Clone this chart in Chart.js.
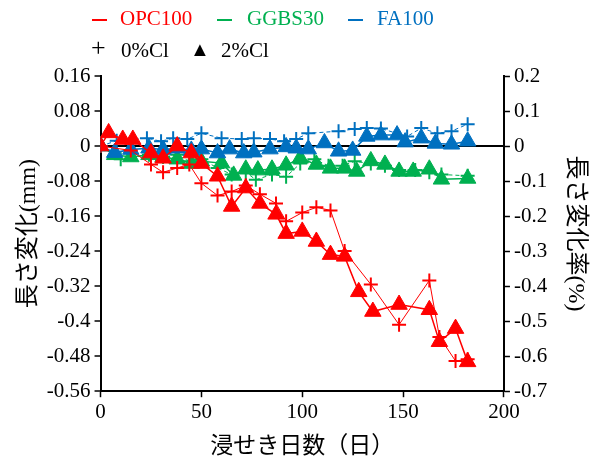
<!DOCTYPE html>
<html>
<head>
<meta charset="utf-8">
<script src="https://cdn.jsdelivr.net/npm/chart.js@4"></script>
<style>
body { margin: 0; background: #fff; }
#wrap { position: relative; width: 592px; height: 461px; }
#chart { position: absolute; left: 0; top: 0; }
.legend { position: absolute; font-family: "Liberation Serif", serif; font-size: 21px; white-space: nowrap; }
.legend span { position: absolute; top: 0; }
.legend i { position: absolute; top: 13px; width: 15px; height: 2px; }
</style>
</head>
<body>
<div id="wrap">
  <canvas id="chart" width="592" height="461"></canvas>
  <div class="legend" style="left:0; top:6px;">
    <i style="left:92px; background:#ff0000;"></i>
    <span style="left:120px; color:#ff0000;">OPC100</span>
    <i style="left:217px; background:#00b050;"></i>
    <span style="left:247px; color:#00b050;">GGBS30</span>
    <i style="left:348px; background:#0070c0;"></i>
    <span style="left:377px; color:#0070c0;">FA100</span>
  </div>
  <div class="legend" style="left:0; top:38px;">
    <span style="left:91px; font-size:26px; top:-5px;">+</span>
    <span style="left:121px;">0%Cl</span>
    <span style="left:190px; font-size:20px; top:0px;">&#9650;</span>
    <span style="left:221px;">2%Cl</span>
  </div>
</div>
<script>
// tick values
const xTicks = [0, 50, 100, 150, 200];
const leftTicks = [-0.56, -0.48, -0.4, -0.32, -0.24, -0.16, -0.08, 0, 0.08, 0.16];
const rightTicks = [-0.7, -0.6, -0.5, -0.4, -0.3, -0.2, -0.1, 0, 0.1, 0.2];

// OPC100
const opc2Days = [0, 4, 11, 16, 25, 31, 38, 45, 50, 58, 65, 72, 79, 87, 92, 100, 107, 114, 121, 128, 135, 148, 163, 168, 176, 182];
const opc2Vals = [0, 0.03, 0.015, 0.015, -0.016, -0.028, 0, -0.016, -0.04, -0.069, -0.138, -0.096, -0.131, -0.156, -0.2, -0.195, -0.218, -0.248, -0.252, -0.333, -0.378, -0.362, -0.374, -0.447, -0.417, -0.493];
const opc0Days = [0, 15, 25, 31, 38, 44, 50, 58, 65, 72, 79, 87, 92, 100, 107, 114, 121, 134, 148, 163, 168, 176, 182];
const opc0Vals = [0, -0.01, -0.042, -0.06, -0.05, -0.042, -0.085, -0.113, -0.104, -0.09, -0.11, -0.131, -0.172, -0.152, -0.14, -0.147, -0.24, -0.316, -0.408, -0.307, -0.436, -0.491, -0.487];

// FA100
const fa2Days = [0, 7, 15, 24, 31, 38, 45, 50, 58, 64, 71, 76, 84, 92, 97, 103, 111, 118, 125, 132, 139, 147, 151, 159, 166, 174, 182];
const fa2Vals = [0, -0.015, -0.008, -0.005, -0.008, -0.005, -0.01, -0.007, -0.016, -0.007, -0.016, -0.014, -0.007, -0.002, -0.005, -0.007, 0.007, -0.012, -0.01, 0.022, 0.025, 0.025, 0.009, 0.018, 0.006, 0.004, 0.011];
const fa0Days = [0, 8, 23, 30, 36, 43, 50, 60, 70, 76, 84, 91, 97, 103, 118, 126, 132, 139, 152, 159, 167, 174, 182];
const fa0Vals = [0, 0.012, 0.018, 0.011, 0.018, 0.016, 0.029, 0.018, 0.016, 0.018, 0.016, 0.011, 0.016, 0.029, 0.034, 0.039, 0.041, 0.04, 0.022, 0.041, 0.029, 0.034, 0.05];

// GGBS30
const gg2Days = [0, 7, 15, 24, 31, 38, 45, 50, 60, 66, 72, 78, 85, 92, 99, 107, 114, 121, 127, 134, 141, 148, 155, 163, 169, 182];
const gg2Vals = [0, -0.02, -0.025, -0.02, -0.025, -0.03, -0.04, -0.035, -0.039, -0.067, -0.053, -0.055, -0.053, -0.044, -0.028, -0.042, -0.051, -0.051, -0.058, -0.034, -0.042, -0.058, -0.058, -0.053, -0.076, -0.074];
const gg0Days = [0, 10, 24, 31, 38, 44, 50, 58, 65, 72, 77, 85, 92, 99, 106, 113, 120, 126, 134, 141, 148, 156, 163, 169, 182];
const gg0Vals = [0, -0.03, -0.02, -0.025, -0.02, -0.035, -0.03, -0.05, -0.065, -0.06, -0.077, -0.065, -0.07, -0.04, -0.03, -0.045, -0.045, -0.035, -0.04, -0.045, -0.055, -0.055, -0.06, -0.065, -0.068];

const RED = '#ff0000', GREEN = '#00b050', BLUE = '#0070c0';

function pts(days, vals) {
  return days.map((d, i) => ({ x: d, y: vals[i] }));
}

function triSet(days, vals, color) {
  return {
    data: pts(days, vals),
    borderColor: color, backgroundColor: color,
    borderWidth: 1.5,
    pointStyle: 'triangle', pointRadius: 9.5,
    pointBorderWidth: 1
  };
}
function crossSet(days, vals, color, dash) {
  return {
    data: pts(days, vals),
    borderColor: color, backgroundColor: color,
    borderWidth: 1, borderDash: dash,
    pointStyle: 'cross', pointRadius: 7,
    pointBorderWidth: 2, pointBorderDash: []
  };
}

const serif = '"Liberation Serif", "Noto Sans CJK JP", serif';

new Chart(document.getElementById('chart'), {
  type: 'line',
  data: {
    datasets: [
      triSet(opc2Days, opc2Vals, RED),
      crossSet(opc0Days, opc0Vals, RED, []),
      triSet(fa2Days, fa2Vals, BLUE),
      crossSet(fa0Days, fa0Vals, BLUE, [4, 3]),
      triSet(gg2Days, gg2Vals, GREEN),
      crossSet(gg0Days, gg0Vals, GREEN, [4, 3])
    ]
  },
  options: {
    responsive: false,
    animation: false,
    layout: { padding: { top: 76, left: 14, right: 2, bottom: 3 } },
    plugins: { legend: { display: false }, tooltip: { enabled: false } },
    scales: {
      x: {
        type: 'linear', min: 0, max: 200,
        afterBuildTicks: axis => { axis.ticks = xTicks.map(v => ({ value: v })); },
        grid: { drawOnChartArea: false, tickColor: '#000', tickLength: 6, tickWidth: 1.5 },
        border: { color: '#000', width: 2 },
        ticks: { color: '#000', font: { family: serif, size: 21 }, padding: 3, maxRotation: 0 },
        title: { display: true, text: '浸せき日数（日）', color: '#000', font: { family: '"Noto Sans CJK JP", sans-serif', size: 23 }, padding: { top: 2, bottom: 0 } }
      },
      y: {
        position: 'left', min: -0.56, max: 0.16,
        afterBuildTicks: axis => { axis.ticks = leftTicks.map(v => ({ value: v })); },
        grid: {
          color: c => (c.tick && Math.abs(c.tick.value) < 1e-9) ? '#000' : 'rgba(0,0,0,0)',
          lineWidth: 2,
          tickColor: '#000', tickLength: 6, tickWidth: 1.5
        },
        border: { color: '#000', width: 2 },
        ticks: { color: '#000', font: { family: serif, size: 21 }, padding: 4, callback: v => String(+v.toFixed(2)) },
        title: { display: true, text: '長さ変化(mm)', color: '#000', font: { family: serif, size: 24 }, padding: { top: 0, bottom: 0 } }
      },
      y1: {
        position: 'right', min: -0.7, max: 0.2,
        afterBuildTicks: axis => { axis.ticks = rightTicks.map(v => ({ value: v })); },
        grid: { drawOnChartArea: false, tickColor: '#000', tickLength: 6, tickWidth: 1.5 },
        border: { color: '#000', width: 2 },
        ticks: { color: '#000', font: { family: serif, size: 21 }, padding: 4, callback: v => String(+v.toFixed(1)) },
        title: { display: true, text: '長さ変化率(%)', color: '#000', font: { family: serif, size: 24 }, padding: { top: 0, bottom: 10 } }
      }
    }
  }
});
</script>
</body>
</html>
